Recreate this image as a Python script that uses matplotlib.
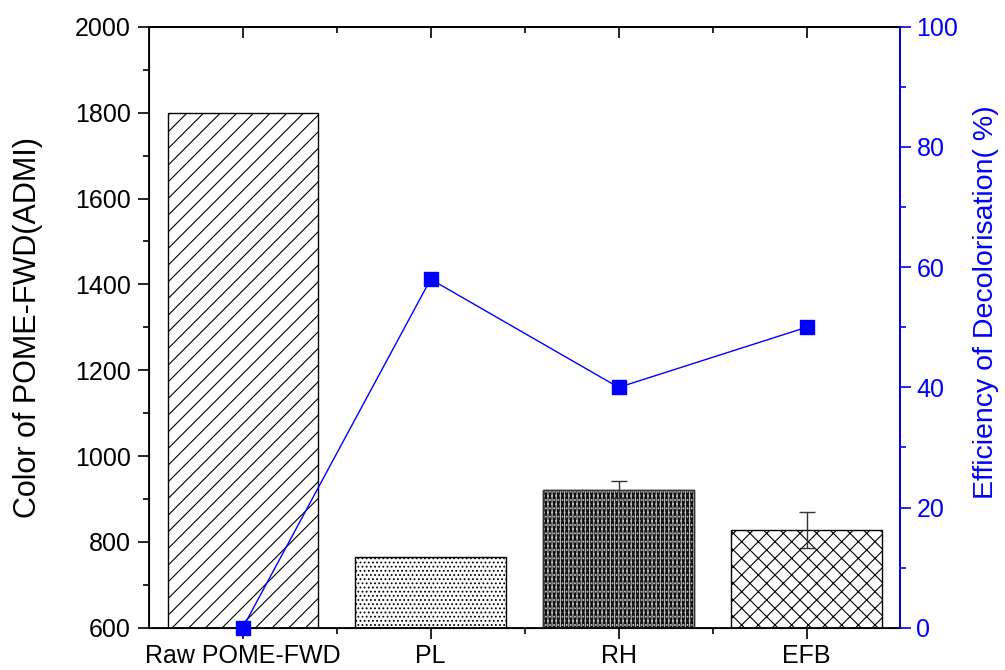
import numpy as np
import matplotlib.pyplot as plt
from matplotlib.ticker import MultipleLocator

plt.rcParams['font.family'] = ['Liberation Sans', 'DejaVu Sans']
plt.rcParams['hatch.linewidth'] = 0.8

# data
categories = ['Raw POME-FWD', 'PL', 'RH', 'EFB']
color_admi = [1800, 765, 922, 828]
color_err = [0, 0, 20, 42]
efficiency = [0, 58, 40, 50]
hatches = ['//', '....', '', 'xx']

fig = plt.figure(figsize=(10.05, 6.70), dpi=100)
ax = fig.add_axes([0.148, 0.063, 0.748, 0.897])
x = np.arange(len(categories))

bars = ax.bar(x, np.array(color_admi) - 600, 0.8, bottom=600, color='white',
              edgecolor='black', linewidth=1.0, zorder=2)
for b, h in zip(bars, hatches):
    b.set_hatch(h)

# dark dotted bar (RH)
ax.bar(x[2], color_admi[2] - 600, 0.8, bottom=600, color='#111111',
       edgecolor='#bbbbbb', hatch='||||....', linewidth=0, zorder=2)
ax.bar(x[2], color_admi[2] - 600, 0.8, bottom=600, fill=False,
       edgecolor='#333333', linewidth=1.0, zorder=3)

# error bars
for xi, yi, e in zip(x, color_admi, color_err):
    if e > 0:
        ax.errorbar(xi, yi, yerr=e, color='#333333', capsize=6, elinewidth=1,
                    capthick=1, zorder=4)

ax.set_xlim(-0.5, 3.5)
ax.set_ylim(600, 2000)
ax.set_xticks(x)
ax.set_xticklabels(categories)
ax.set_xticks(x[:-1] + 0.5, minor=True)
ax.yaxis.set_major_locator(MultipleLocator(200))
ax.yaxis.set_minor_locator(MultipleLocator(100))
ax.tick_params(axis='both', which='major', labelsize=18, length=8, width=1.2, direction='out')
ax.tick_params(axis='both', which='minor', length=4, width=1.2, direction='out')
ax.tick_params(axis='y', pad=5)
ax.set_ylabel('Color of POME-FWD(ADMI)', fontsize=22)
ax.yaxis.set_label_coords(-0.141, 0.5)
for s in ax.spines.values():
    s.set_linewidth(1.3)

# top axis: ticks pointing inward
top = ax.secondary_xaxis('top')
top.set_xticks(x)
top.set_xticks(x[:-1] + 0.5, minor=True)
top.tick_params(which='major', direction='in', length=8, width=1.2, labeltop=False)
top.tick_params(which='minor', direction='in', length=4, width=1.2)
top.spines['top'].set_linewidth(1.3)

ax2 = ax.twinx()
ax2.plot(x, efficiency, color='blue', linewidth=1.0, marker='s', markersize=10,
         zorder=5, clip_on=False)
ax2.set_ylim(0, 100)
ax2.yaxis.set_major_locator(MultipleLocator(20))
ax2.yaxis.set_minor_locator(MultipleLocator(10))
ax2.tick_params(axis='y', which='major', labelsize=18, length=8, width=1.2, colors='blue', direction='out')
ax2.tick_params(axis='y', which='minor', length=4, width=1.2, colors='blue', direction='out')
ax2.spines['right'].set_color('blue')
ax2.spines['right'].set_linewidth(1.3)
ax2.set_ylabel('Efficiency of Decolorisation( %)', fontsize=20.5, color='blue')
ax2.yaxis.set_label_coords(1.097, 0.542)

fig.savefig('out.png', dpi=100)
